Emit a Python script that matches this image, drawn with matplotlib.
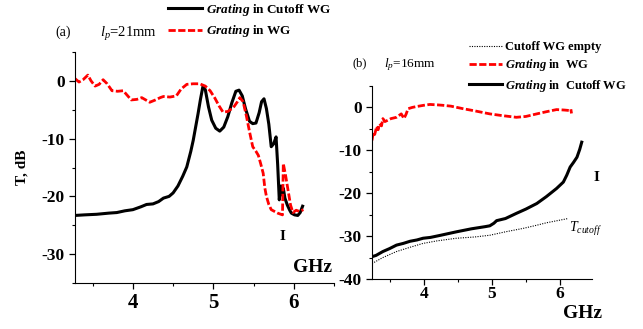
import matplotlib
matplotlib.use('Agg')
import matplotlib.pyplot as plt
from matplotlib.ticker import MultipleLocator

plt.rcParams['font.family'] = ['Liberation Serif', 'DejaVu Serif']
plt.rcParams['axes.unicode_minus'] = False
plt.rcParams['mathtext.fontset'] = 'custom'
plt.rcParams['mathtext.rm'] = 'Liberation Serif'
plt.rcParams['mathtext.it'] = 'Liberation Serif:italic'
plt.rcParams['mathtext.bf'] = 'Liberation Serif:bold'
plt.rcParams['mathtext.bfit'] = 'Liberation Serif:italic:bold'

# panel (a), lp = 21 mm
a_cut_f = [3.28, 3.40, 3.55, 3.70, 3.80, 3.90, 4.00, 4.10, 4.17, 4.25, 4.32, 4.38, 4.45,
           4.50, 4.56, 4.62, 4.67, 4.72, 4.75, 4.78, 4.81, 4.84, 4.87, 4.90, 4.94, 4.98,
           5.03, 5.08, 5.13, 5.18, 5.23, 5.28, 5.32, 5.36, 5.40, 5.45, 5.49, 5.53, 5.57,
           5.60, 5.63, 5.66, 5.69, 5.72, 5.75, 5.78, 5.80, 5.82, 5.84, 5.86, 5.87, 5.89,
           5.92, 5.95, 5.97, 6.01, 6.05, 6.08, 6.11]
a_cut_t = [-23.3, -23.2, -23.1, -22.9, -22.8, -22.5, -22.3, -21.8, -21.4, -21.3, -20.9, -20.3, -20.0,
           -19.4, -18.2, -16.5, -14.9, -12.2, -10.3, -8.0, -5.7, -3.2, -1.0, -1.5, -4.5, -6.8,
           -8.2, -8.7, -8.0, -6.2, -3.8, -1.8, -1.6, -2.6, -4.8, -7.0, -7.4, -7.3, -5.5,
           -3.6, -3.1, -4.8, -7.5, -11.4, -10.9, -9.7, -14.5, -20.6, -18.2, -19.8, -18.6, -20.3,
           -21.5, -22.4, -22.9, -23.2, -23.3, -22.8, -21.7]

a_wg_f = [3.28, 3.33, 3.38, 3.44, 3.48, 3.53, 3.58, 3.63, 3.68, 3.74, 3.81, 3.88, 3.93,
          3.98, 4.05, 4.11, 4.16, 4.21, 4.28, 4.34, 4.38, 4.46, 4.54, 4.60, 4.67, 4.75,
          4.83, 4.90, 4.96, 5.02, 5.07, 5.12, 5.18, 5.25, 5.30, 5.33, 5.37, 5.41, 5.45,
          5.49, 5.53, 5.56, 5.59, 5.62, 5.64, 5.66, 5.69, 5.72, 5.76, 5.80, 5.84, 5.86,
          5.87, 5.90, 5.93, 5.96, 5.99, 6.03, 6.07, 6.12]
a_wg_t = [0.4, -0.2, 0.2, 1.0, 0.0, -0.9, -0.6, 0.2, -0.5, -1.7, -1.8, -1.7, -2.5,
          -3.3, -3.2, -2.9, -3.3, -3.7, -3.3, -2.9, -2.7, -2.8, -2.6, -1.4, -0.6, -0.5,
          -0.5, -0.9, -1.7, -3.0, -4.3, -5.4, -5.3, -4.6, -3.6, -2.9, -3.6, -6.0, -8.8,
          -11.4, -12.2, -12.9, -14.4, -16.0, -18.5, -20.0, -21.4, -22.3, -22.6, -22.9, -23.1, -23.2,
          -14.3, -16.5, -19.0, -21.5, -22.8, -22.4, -22.6, -22.3]

# panel (b), lp = 16 mm
b_empty_f = [3.24, 3.40, 3.60, 3.80, 3.99, 4.20, 4.48, 4.75, 4.97, 5.20, 5.46, 5.65, 5.80, 5.96, 6.12]
b_empty_t = [-36.4, -35.0, -33.6, -32.6, -31.7, -31.1, -30.5, -30.2, -29.8, -29.0, -28.2, -27.5, -26.9, -26.4, -25.9]

b_wg_f = [3.24, 3.26, 3.28, 3.31, 3.33, 3.35, 3.38, 3.40, 3.43, 3.47, 3.52, 3.60, 3.67,
          3.71, 3.74, 3.77, 3.83, 3.89, 4.00, 4.09, 4.20, 4.28, 4.40, 4.58, 4.75, 4.97,
          5.15, 5.36, 5.50, 5.66, 5.80, 5.95, 6.06, 6.13, 6.16, 6.17]
b_wg_t = [-7.7, -5.8, -6.3, -4.4, -5.2, -3.8, -4.3, -2.6, -3.3, -3.0, -2.6, -2.3, -1.5,
          -2.6, -1.6, -0.3, 0.0, 0.2, 0.5, 0.7, 0.6, 0.5, 0.3, -0.3, -0.8, -1.5,
          -1.9, -2.3, -2.1, -1.5, -1.0, -0.5, -0.6, -0.7, -0.4, -1.4]

b_cut_f = [3.24, 3.30, 3.40, 3.50, 3.60, 3.70, 3.80, 3.90, 3.99, 4.10, 4.25, 4.48, 4.70,
           4.90, 4.97, 5.03, 5.07, 5.20, 5.36, 5.50, 5.66, 5.80, 5.95, 6.05, 6.10, 6.15,
           6.20, 6.25, 6.29, 6.32]
b_cut_t = [-34.8, -34.5, -33.6, -32.9, -32.1, -31.7, -31.2, -30.9, -30.5, -30.3, -29.8, -29.0, -28.3,
           -27.8, -27.6, -27.0, -26.4, -25.9, -24.7, -23.7, -22.4, -20.8, -18.9, -17.4, -15.8, -13.9,
           -12.8, -11.6, -9.8, -8.1]

red_dash = (0, (2.6, 0.9))

fig = plt.figure(figsize=(6.43, 3.29), dpi=100)
ax1 = fig.add_axes([0.1166, 0.1398, 0.4028, 0.7021])
ax2 = fig.add_axes([0.5785, 0.152, 0.3421, 0.5866])

for ax in (ax1, ax2):
    for s in ('top', 'right'):
        ax.spines[s].set_visible(False)
    ax.tick_params(which='major', direction='out', length=4, width=0.9)
    ax.tick_params(which='minor', direction='out', length=2.5, width=0.8)
    ax.xaxis.set_major_locator(MultipleLocator(1))
    ax.xaxis.set_minor_locator(MultipleLocator(0.5))
    ax.yaxis.set_major_locator(MultipleLocator(10))
    ax.yaxis.set_minor_locator(MultipleLocator(5))

# (a)
l1, = ax1.plot(a_cut_f, a_cut_t, color='black', lw=2.2)
l2, = ax1.plot(a_wg_f, a_wg_t, color='red', lw=2.0, ls=red_dash)
ax1.set_xlim(3.28, 6.5)
ax1.set_ylim(-35, 5)
ax1.set_ylabel('T, dB', fontsize=11, fontweight='bold', labelpad=9)
for lab in ax1.get_xticklabels():
    lab.set_fontsize(15)
    lab.set_fontweight('bold')
for lab in ax1.get_yticklabels():
    lab.set_fontsize(12.5)
    lab.set_fontweight('bold')
ax1.text(5.86, -27, 'I', fontsize=11, fontweight='bold', ha='center', va='center')
fig.text(313 / 643, 1 - 267 / 329, 'GHz', fontsize=14, fontweight='bold', ha='center', va='center')
fig.text(63 / 643, 1 - 32 / 329, '(a)', fontsize=10, ha='center', va='center')
fig.text(100 / 643, 1 - 34 / 329, r'$l_p$=21mm', fontsize=10.5, ha='left', va='center')
fig.legend([l1, l2], [r'$\mathbfit{Grating}$ in Cutoff WG', r'$\mathbfit{Grating}$ in WG'],
           loc='upper left', bbox_to_anchor=(168 / 643, 1 - 2 / 329), frameon=False,
           prop={'size': 9.5, 'weight': 'bold'}, handlelength=2.6, handletextpad=0.3,
           borderpad=0, borderaxespad=0, labelspacing=0.4)

# (b)
m1, = ax2.plot(b_empty_f, b_empty_t, color='black', lw=0.8, ls=(0, (1, 1.2)))
m2, = ax2.plot(b_wg_f, b_wg_t, color='red', lw=2.0, ls=red_dash)
m3, = ax2.plot(b_cut_f, b_cut_t, color='black', lw=2.2)
ax2.set_xlim(3.24, 6.47)
ax2.set_ylim(-40, 5)
for lab in ax2.get_xticklabels() + ax2.get_yticklabels():
    lab.set_fontsize(12.5)
    lab.set_fontweight('bold')
ax2.xaxis.set_tick_params(pad=1)
ax2.text(6.13, -28.3, r'$T_{cutoff}$', fontsize=10, ha='left', va='center')
fig.text(596 / 643, 1 - 177 / 329, 'I', fontsize=11, fontweight='bold', ha='center', va='center')
fig.text(582 / 643, 1 - 313 / 329, 'GHz', fontsize=14, fontweight='bold', ha='center', va='center')
fig.text(360 / 643, 1 - 63 / 329, '(b)', fontsize=9, ha='center', va='center')
fig.text(384 / 643, 1 - 65 / 329, r'$l_p$=16mm', fontsize=9.5, ha='left', va='center')
fig.legend([m1, m2, m3],
           ['Cutoff WG empty', r'$\mathbfit{Grating}$ in  WG', r'$\mathbfit{Grating}$ in  Cutoff WG'],
           loc='upper left', bbox_to_anchor=(469 / 643, 1 - 41 / 329), frameon=False,
           prop={'size': 9, 'weight': 'bold'}, handlelength=2.6, handletextpad=0.3,
           borderpad=0, borderaxespad=0, labelspacing=0.35)

fig.savefig('out.png', dpi=100)
